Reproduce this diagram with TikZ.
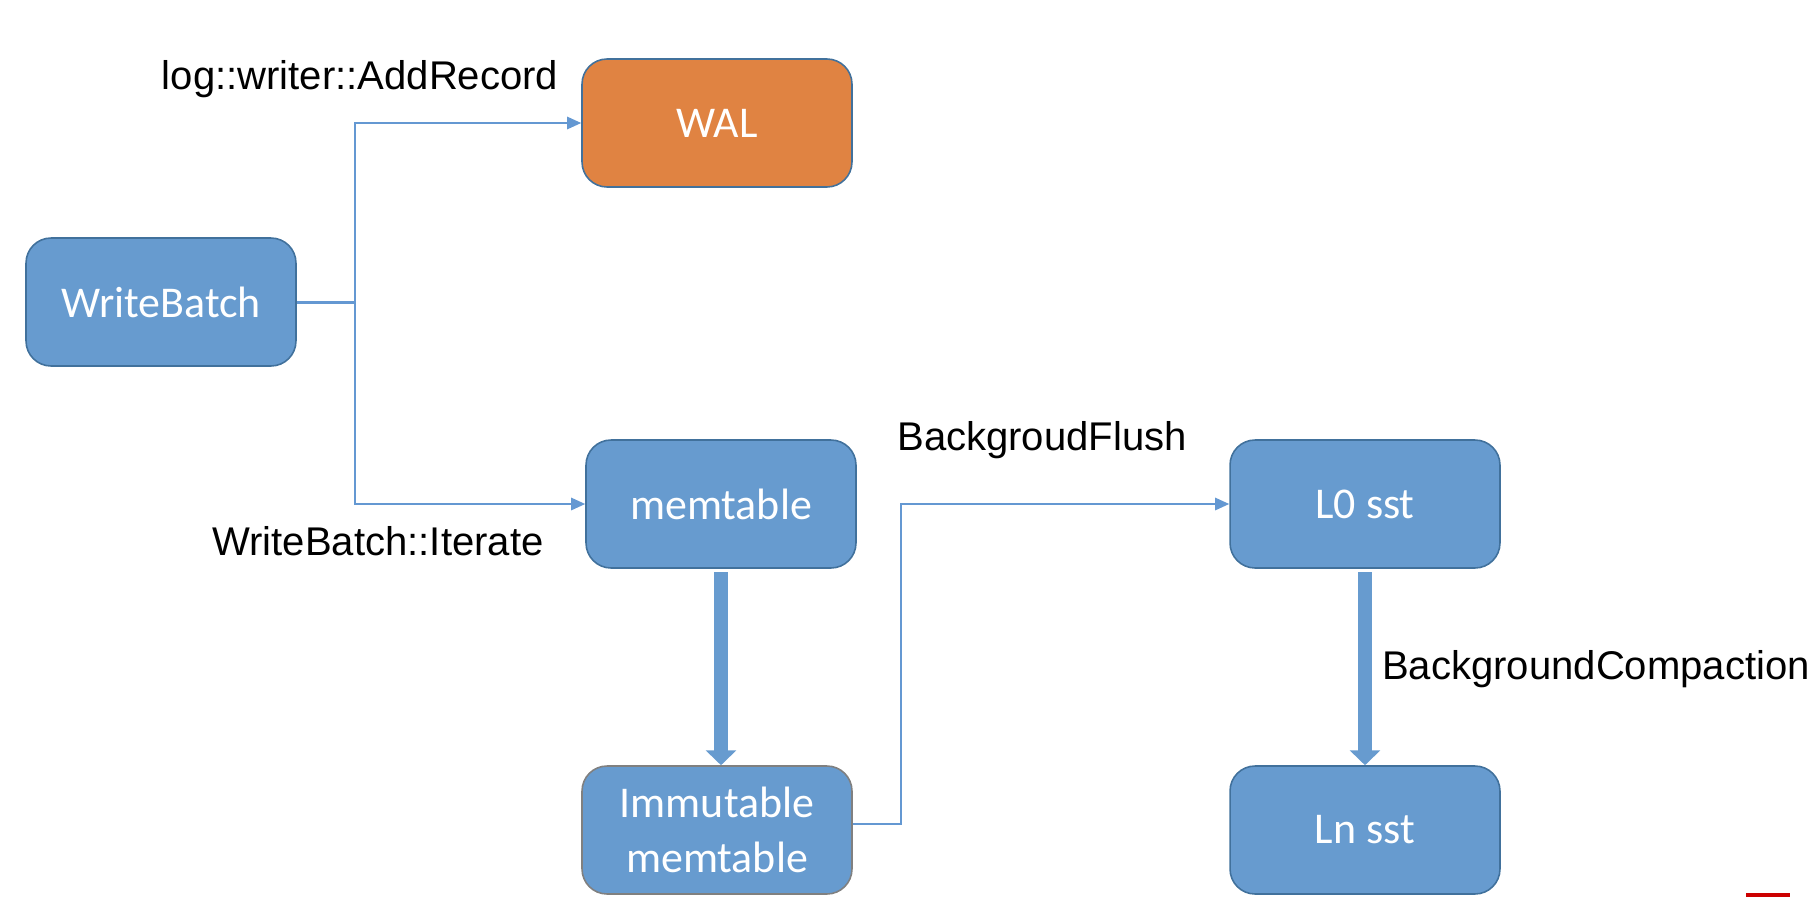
\documentclass[tikz,border=0pt]{standalone}
\usepackage{fontspec}
\setmainfont{Liberation Sans}
\newfontfamily\boxfont{Carlito}
\usetikzlibrary{arrows.meta,positioning}

\definecolor{boxblue}{RGB}{103,155,207}
\definecolor{boxline}{RGB}{65,113,156}
\definecolor{walorange}{RGB}{224,131,66}
\definecolor{flowblue}{RGB}{100,152,210}

\tikzset{
	block/.style={rectangle, rounded corners=0.5cm, draw=boxline, line width=0.9pt,
		fill=boxblue, minimum width=5.4cm, minimum height=2.56cm,
		text=white, font=\boxfont\fontsize{25}{29}\selectfont, align=center},
	flow/.style={draw=flowblue, line width=1.1pt, -{Triangle[length=8pt,width=7pt]}},
	bigflow/.style={draw=boxblue, line width=8.5pt, shorten <=2pt,
		-{Triangle[length=8.5pt,width=17pt]}},
	call/.style={font=\fontsize{22.8}{26}\selectfont}
}

\begin{document}
\begin{tikzpicture}[x=0.02cm, y=-0.02cm]
	\useasboundingbox (0,0) rectangle (1814,896);

	% Nodes {wb, wal, mem, imm, l0, ln}
	\node [block]						(wb)	at (161,302)	{WriteBatch};
	\node [block, fill=walorange]		(wal)	at (717,123)	{WAL};
	\node [block]						(mem)	at (721,504)	{memtable};
	\node [block, draw=gray]			(imm)	at (717,830)	{Immutable\\[2.5pt]memtable};
	\node [block]						(l0)	at (1365,504)	{L0 sst};
	\node [block]						(ln)	at (1365,830)	{Ln sst};

	% Labels
	\node [call]	(addrec)	at (360,79)		{log::writer::AddRecord};
	\node [call]	(iterate)	at (378,541)	{WriteBatch::Iterate};
	\node [call]	(flush)		at (1042,440)	{BackgroudFlush};
	\node [call]	(compact)	at (1596,669)	{BackgroundCompaction};

	% Paths
	\coordinate (split) at (355,302);
	\coordinate (turn)  at (901,824);
	\draw [draw=flowblue, line width=1.7pt]	(wb.east) -- (split);
	\draw [flow]	(split) |- (wal.west);
	\draw [flow]	(split) |- (mem.west);
	\draw [flow]	(imm.east |- turn) -- (turn) |- (l0.west);
	\draw [bigflow]	(mem.south) -- (mem.south |- imm.north);
	\draw [bigflow]	(l0.south) -- (ln.north);

	% clipped mark in the corner
	\fill [red!80!black] (1746,893) rectangle (1790,898);

\end{tikzpicture}
\end{document}
